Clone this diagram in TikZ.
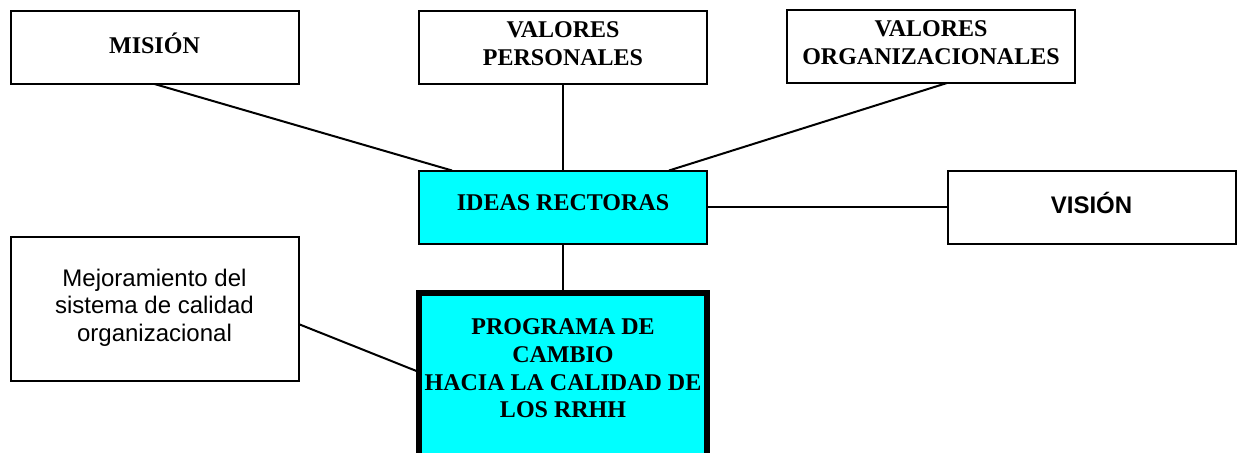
\documentclass[tikz,border=0pt]{standalone}
\usepackage{fontspec}
\setmainfont{Liberation Serif}
\newfontfamily\arialfont{Liberation Sans}
\definecolor{aqua}{RGB}{0,255,255}
\begin{document}
\begin{tikzpicture}[
     x=0.5pt, y=-0.5pt,
     idea/.style={draw, line width=1pt, outer sep=0pt, inner sep=0pt,
       minimum width=144pt, minimum height=36.5pt, align=center, text depth=4pt,
       font=\fontsize{12}{13.8}\selectfont\bfseries},
     core/.style={idea, fill=aqua},
     note/.style={idea, font=\fontsize{12}{13.8}\selectfont\arialfont},
     link/.style={line width=1pt}
   ]
   \path[use as bounding box] (0,0) rectangle (1240,452);
   % Guiding ideas.
   \node[idea] (mision) at (154.5,47.5) {MISIÓN};
   \node[idea] (valper) at (563,47.5) {VALORES\\PERSONALES};
   \node[idea] (valorg) at (931,46.5) {VALORES\\ORGANIZACIONALES};
   \node[core] (ideas) at (563,207) {IDEAS RECTORAS};
   \node[note, font=\fontsize{12}{13.8}\selectfont\arialfont\bfseries] (vision) at (1091.5,207) {VISIÓN};
   \node[note, minimum height=72pt] (mejora) at (154.5,309)
     {Mejoramiento del\\sistema de calidad\\organizacional};
   % Change programme.
   \node[core, line width=3pt, minimum height=120pt, anchor=north] (programa) at (563,293) {};
   \node[idea, draw=none, anchor=north, yshift=-13pt] (progtext) at (programa.north)
     {PROGRAMA DE\\CAMBIO\\HACIA LA CALIDAD DE\\LOS RRHH};
   \draw[link] (mision.south) -- ([xshift=16.5pt]ideas.north west);
   \draw[link] (valper.south) -- (ideas.north);
   \draw[link] ([xshift=8pt]valorg.south) -- ([xshift=-19pt]ideas.north east);
   \draw[link] (ideas.east) -- (vision.west);
   \draw[link] (ideas.south) -- (programa.north);
   \draw[link] ([yshift=-7.5pt]mejora.east) -- ([yshift=-39.5pt]programa.north west);
\end{tikzpicture}
\end{document}
